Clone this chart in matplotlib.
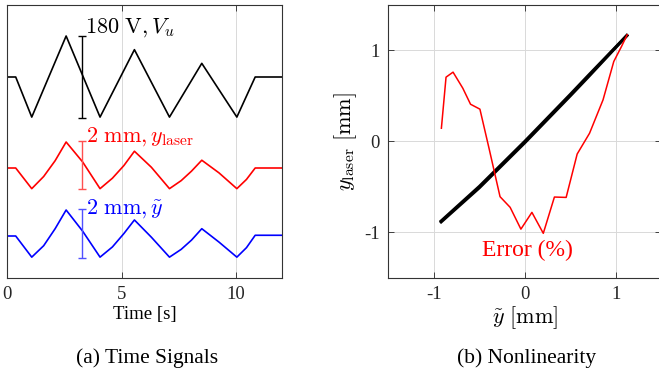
import matplotlib
matplotlib.use("Agg")
import matplotlib.pyplot as plt
import numpy as np

plt.rcParams['font.family'] = ['Liberation Serif', 'DejaVu Serif']
plt.rcParams['mathtext.fontset'] = 'cm'
plt.rcParams['axes.unicode_minus'] = False

# (a) time signals, breakpoints
t_vu = [0, 0.38, 1.08, 2.58, 4.06, 5.56, 7.09, 8.5, 10.03, 10.83, 12]
vu = [0, 0, -88, 90, -88, 60, -88, 30, -88, 0, 0]  # V

t_mm = [0, 0.38, 1.08, 1.6, 2.1, 2.58, 3.3, 4.06, 4.6, 5.1, 5.56, 6.3, 7.09,
        7.6, 8.05, 8.5, 9.25, 10.03, 10.45, 10.83, 12]
y_laser = [0, 0, -0.85, -0.35, 0.3, 1.07, 0.25, -0.85, -0.42, 0.1, 0.69, 0.03,
           -0.85, -0.52, -0.13, 0.32, -0.2, -0.85, -0.47, 0, 0]  # mm
y_tilde = [0, 0, -0.87, -0.4, 0.3, 1.07, 0.2, -0.87, -0.45, 0.1, 0.66, -0.05,
           -0.87, -0.55, -0.17, 0.3, -0.25, -0.87, -0.48, 0.03, 0.03]  # mm

# (b) nonlinearity: y_laser vs y_tilde loop, and error curve
yt_loop = [-0.92, -0.5, 0.0, 0.5, 0.7, 1.12]
yl_up = [-0.885, -0.51, -0.015, 0.50, 0.71, 1.16]
yl_down = [-0.875, -0.495, 0.0, 0.515, 0.725, 1.16]

err_x = [-0.917, -0.866, -0.789, -0.682, -0.597, -0.494, -0.394, -0.273, -0.162,
         -0.044, 0.077, 0.202, 0.324, 0.453, 0.574, 0.71, 0.858, 0.976, 1.061, 1.123]
err_y = [0.143, 0.703, 0.758, 0.582, 0.406, 0.352, -0.077, -0.608, -0.725,
         -0.964, -0.78, -1.01, -0.612, -0.616, -0.14, 0.088, 0.454, 0.875, 1.04, 1.168]

# plotting offsets / scales for stacked traces (pixel-like units)
k_v = 82 / 180.0
k_mm = 24.3
off_v, off_l, off_t = 201, 110, 42

fig = plt.figure(figsize=(6.59, 3.85), dpi=100)
W, H = 659.0, 385.0

ax1 = fig.add_axes([7 / W, 1 - 278 / H, 275 / W, 273 / H])
ax1.plot(t_vu, off_v + k_v * np.array(vu), color='k', lw=1.2)
ax1.plot(t_mm, off_l + k_mm * np.array(y_laser), color='r', lw=1.2)
ax1.plot(t_mm, off_t + k_mm * np.array(y_tilde), color='b', lw=1.2)

bar_t = 3.26
ax1.errorbar(bar_t, off_v, yerr=k_v * 90, color='k', lw=1.0, capsize=3)
ax1.errorbar(bar_t, off_l + k_mm * 0.13, yerr=k_mm * 1.0, color='#ff5050', lw=1.0, capsize=3)
ax1.errorbar(bar_t, off_t + k_mm * 0.10, yerr=k_mm * 1.0, color='#5050ff', lw=1.0, capsize=3)

ax1.text(3.4, 245, r'$180\ \mathrm{V}, V_u$', color='k', fontsize=16, va='baseline')
ax1.text(3.45, 136, r'$2\ \mathrm{mm}, y_{\mathrm{laser}}$', color='r', fontsize=16, va='baseline')
ax1.text(3.45, 64, r'$2\ \mathrm{mm}, \tilde{y}$', color='b', fontsize=16, va='baseline')

ax1.set_xlim(0, 12)
ax1.set_ylim(0, 273)
ax1.set_xticks([0, 5, 10])
ax1.set_yticks([])
ax1.grid(True, axis='x', color='0.85', lw=0.7)
ax1.set_axisbelow(True)
ax1.set_xlabel('Time [s]', fontsize=13.5, labelpad=2)

ax2 = fig.add_axes([388.3 / W, 1 - 278 / H, 273.2 / W, 273.5 / H])
ax2.plot(yt_loop, yl_up, color='k', lw=2.2)
ax2.plot(yt_loop, yl_down, color='k', lw=2.2)
ax2.plot(err_x, err_y, color='r', lw=1.1)
ax2.text(0.025, -1.26, 'Error (%)', color='r', fontsize=17, ha='center', va='baseline')
ax2.set_xlim(-1.5, 1.5)
ax2.set_ylim(-1.5, 1.5)
ax2.set_xticks([-1, 0, 1])
ax2.set_yticks([-1, 0, 1])
ax2.grid(True, color='0.85', lw=0.7)
ax2.set_axisbelow(True)
ax2.set_xlabel(r'$\tilde{y}\ [\mathrm{mm}]$', fontsize=16, labelpad=1)
ax2.set_ylabel(r'$y_{\mathrm{laser}}\ [\mathrm{mm}]$', fontsize=16, labelpad=4)

for ax in (ax1, ax2):
    ax.tick_params(direction='in', length=4, width=0.6, top=True, right=True,
                   labelsize=13.5, pad=6, colors='0.15')
    for s in ax.spines.values():
        s.set_color('0.2')
        s.set_linewidth(0.8)

fig.text(147 / W, 1 - 363 / H, '(a) Time Signals', ha='center', va='baseline', fontsize=15.5)
fig.text(527 / W, 1 - 363 / H, '(b) Nonlinearity', ha='center', va='baseline', fontsize=15.5)

fig.savefig('out.png', dpi=100)
